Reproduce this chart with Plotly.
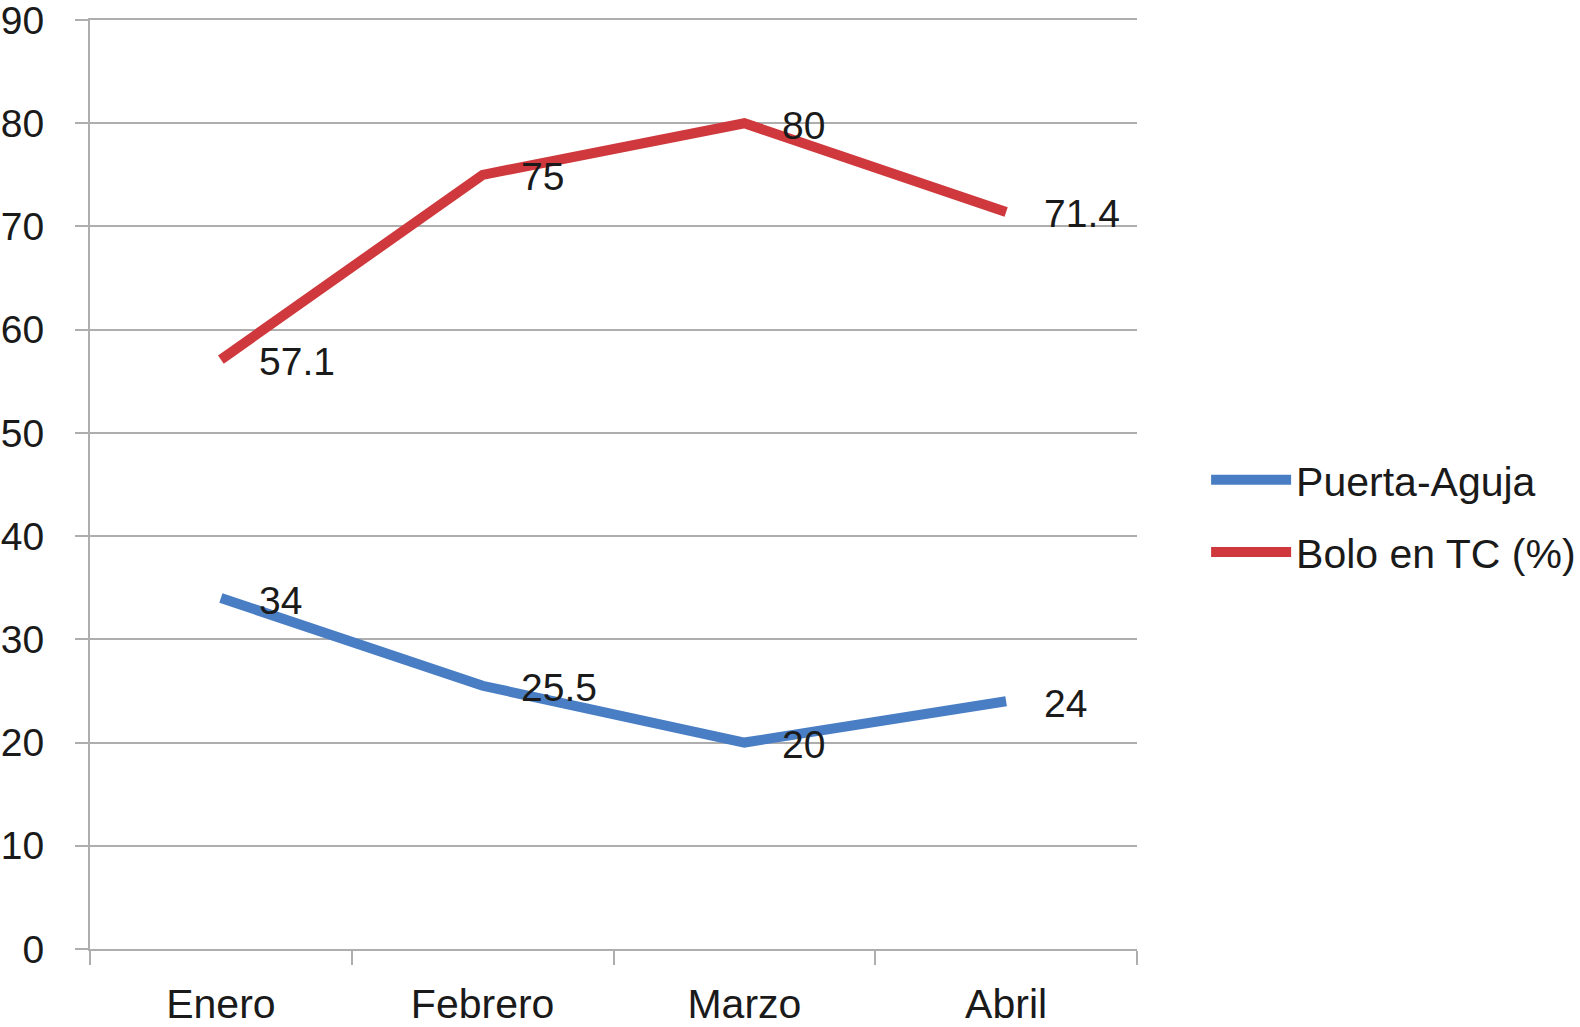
import plotly.graph_objects as go

meses = ['Enero', 'Febrero', 'Marzo', 'Abril']
puerta_aguja = [34, 25.5, 20, 24]
bolo_tc = [57.1, 75, 80, 71.4]
y_ticks = [0, 10, 20, 30, 40, 50, 60, 70, 80, 90]

FONT = 'Liberation Sans, Arial, sans-serif'
GRID = '#aeaeae'
TXT = '#1a1a1a'

fig = go.Figure()

series = [
    ('Puerta-Aguja', puerta_aguja, '#4a7ec4'),
    ('Bolo en TC (%)', bolo_tc, '#cf383c'),
]

for i, (name, vals, color) in enumerate(series):
    fig.add_trace(go.Scatter(
        x=meses,
        y=vals,
        mode='lines',
        name=name,
        legendgroup=f'g{i}',
        line=dict(color=color, width=10),
    ))
    # data labels to the right of each point
    for m, v in zip(meses, vals):
        fig.add_annotation(
            x=m, y=v, text=f'{v:g}', showarrow=False,
            xanchor='left', yanchor='middle', xshift=36, yshift=-2,
            font=dict(family=FONT, size=39, color=TXT),
        )

fig.update_layout(
    width=1580,
    height=1027,
    plot_bgcolor='white',
    paper_bgcolor='white',
    margin=dict(l=90, r=443, t=20, b=78, autoexpand=False),
    font=dict(family=FONT, size=41, color=TXT),
    showlegend=True,
    legend=dict(
        x=1.066, y=0.466, xanchor='left', yanchor='middle',
        traceorder='grouped', tracegroupgap=16,
        font=dict(family=FONT, size=41, color=TXT),
        itemwidth=80,
    ),
)

fig.update_xaxes(
    type='category',
    range=[-0.5, 3.5],
    tickson='boundaries',
    ticks='outside', ticklen=14, tickwidth=2, tickcolor=GRID,
    showgrid=False,
    showline=True, linecolor=GRID, linewidth=2, mirror=True,
    ticklabelstandoff=18,
    automargin=False,
)

fig.update_yaxes(
    range=[0, 90],
    tickvals=y_ticks,
    tickfont=dict(size=39),
    ticks='outside', ticklen=13, tickwidth=2, tickcolor=GRID,
    showgrid=True, gridcolor=GRID, gridwidth=2,
    showline=True, linecolor=GRID, linewidth=2,
    zeroline=False,
    ticklabelstandoff=23,
    ticklabeloverflow='allow',
    automargin=False,
)

# remove default page margin so the figure sits at the window corner
fig.write_html('out.html', config={'displayModeBar': False},
               post_script="document.body.style.margin='0';")
